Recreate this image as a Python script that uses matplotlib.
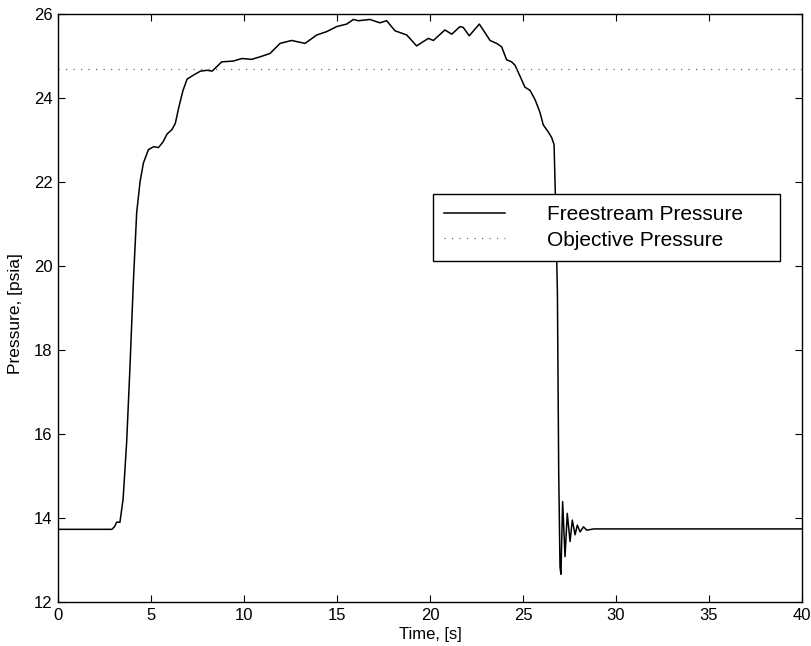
import matplotlib
matplotlib.use("Agg")
import matplotlib.pyplot as plt

plt.rcParams['font.family'] = ['Liberation Sans', 'DejaVu Sans']

# Freestream pressure trace
time_s = [0.0, 2.9, 3.05, 3.15, 3.33, 3.5, 3.69, 3.87, 4.05, 4.23, 4.41, 4.59,
          4.86, 5.14, 5.4, 5.64, 5.86, 6.13, 6.31, 6.49, 6.72, 6.94, 7.3, 7.66,
          8.02, 8.29, 8.8, 9.43, 9.88, 10.41, 10.86, 11.4, 11.94, 12.56, 13.28,
          13.91, 14.44, 14.98, 15.52, 15.88, 16.15, 16.77, 17.31, 17.67, 18.12,
          18.75, 19.28, 19.91, 20.18, 20.8, 21.17, 21.61, 21.79, 22.11, 22.65,
          23.23, 23.58, 23.85, 24.12, 24.39, 24.57, 24.84, 25.1, 25.38, 25.65,
          25.91, 26.09, 26.36, 26.54, 26.67, 26.74, 26.85, 26.92, 26.99, 27.04,
          27.13, 27.26, 27.38, 27.53, 27.65, 27.8, 27.92, 28.07, 28.25, 28.43,
          28.8, 40.0]
pressure = [13.73, 13.73, 13.80, 13.90, 13.90, 14.45, 15.8, 17.6, 19.6, 21.27,
            22.0, 22.45, 22.77, 22.84, 22.82, 22.95, 23.14, 23.25, 23.4, 23.77,
            24.18, 24.45, 24.55, 24.64, 24.66, 24.64, 24.86, 24.88, 24.94, 24.92,
            24.98, 25.06, 25.30, 25.37, 25.30, 25.50, 25.58, 25.70, 25.76, 25.87,
            25.84, 25.87, 25.79, 25.84, 25.60, 25.50, 25.24, 25.42, 25.37, 25.62,
            25.52, 25.70, 25.68, 25.48, 25.76, 25.37, 25.30, 25.22, 24.91, 24.86,
            24.78, 24.52, 24.26, 24.18, 23.96, 23.66, 23.36, 23.19, 23.06, 22.89,
            21.69, 19.36, 15.07, 12.83, 12.66, 14.39, 13.08, 14.11, 13.44, 13.95,
            13.60, 13.83, 13.67, 13.79, 13.71, 13.74, 13.74]
objective_pressure = 24.7

x_ticks = [0, 5, 10, 15, 20, 25, 30, 35, 40]
y_ticks = [12, 14, 16, 18, 20, 22, 24, 26]

fig = plt.figure(figsize=(8.11, 6.46), dpi=100)
ax = fig.add_axes([58/811, 1-602/646, 744/811, 588/646])

ax.plot(time_s, pressure, color='black', lw=1.1, label='Freestream Pressure')
ax.axhline(objective_pressure, color='#666666', lw=0.9, dashes=(1, 5.0),
           label='Objective Pressure')

ax.set_xlim(0, 40)
ax.set_ylim(12, 26)
ax.set_xticks(x_ticks)
ax.set_yticks(y_ticks)
ax.tick_params(direction='in', length=5, width=0.8, top=True, right=True,
               labelsize=12, pad=4)
for s in ax.spines.values():
    s.set_linewidth(1.0)

ax.set_xlabel('Time, [s]', fontsize=12)
ax.set_ylabel('Pressure, [psia]', fontsize=12.5)
ax.xaxis.set_label_coords(0.5, -0.042)
ax.yaxis.set_label_coords(-0.047, 0.49)

leg = ax.legend(loc='center', bbox_to_anchor=(0.504, 0.580, 0.466, 0.114),
                mode='expand', fontsize=15, frameon=True, fancybox=False,
                edgecolor='black', framealpha=1, handlelength=2.9,
                handletextpad=2.0, borderpad=0.55, labelspacing=0.3,
                borderaxespad=0)
leg.get_frame().set_linewidth(1.0)

fig.savefig('out.png', dpi=100)
